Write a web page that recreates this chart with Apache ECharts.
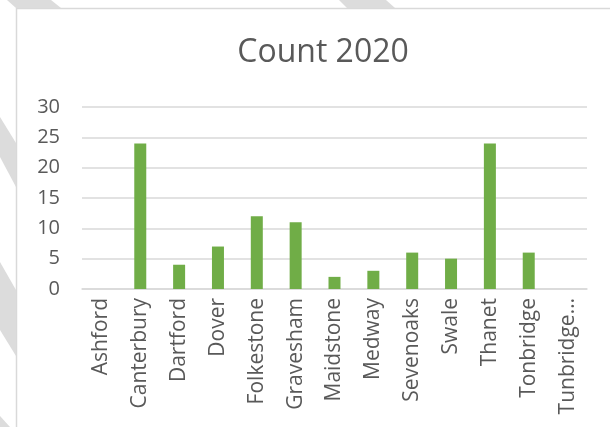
<!DOCTYPE html>
<html>
<head>
<meta charset="utf-8">
<script src="https://cdn.jsdelivr.net/npm/echarts@6/dist/echarts.min.js"></script>
<style>
html,body{margin:0;padding:0;background:#fff;}
#c{width:610px;height:427px;}
</style>
</head>
<body>
<div id="c"></div>
<script>
const titleText = 'Count 2020';
const categories = ['Ashford','Canterbury','Dartford','Dover','Folkestone','Gravesham','Maidstone','Medway','Sevenoaks','Swale','Thanet','Tonbridge','Tunbridge Wells'];
const counts = [0, 24, 4, 7, 12, 11, 2, 3, 6, 5, 24, 6, 0];
const yTicks = { min: 0, max: 30, interval: 5 };

const chart = echarts.init(document.getElementById('c'), null, { renderer: 'canvas' });
const FONT = '"Open Sans", "Noto Sans", sans-serif';
const deco = '#dcdcdc';
chart.setOption({
  animation: false,
  backgroundColor: '#ffffff',
  title: {
    text: titleText,
    left: 318,
    top: 32,
    textAlign: 'center',
    textStyle: { fontFamily: FONT, fontSize: 32, fontWeight: 'normal', color: '#595959' }
  },
  graphic: [
    { type: 'polygon', silent: true, shape: { points: [[7,0],[51,0],[61,8],[16,8]] }, style: { fill: deco } },
    { type: 'polygon', silent: true, shape: { points: [[339,0],[386,0],[395,8],[347,8]] }, style: { fill: deco } },
    { type: 'polygon', silent: true, shape: { points: [[0,117],[16,143],[16,187],[0,157]] }, style: { fill: deco } },
    { type: 'polygon', silent: true, shape: { points: [[0,262],[16,290],[16,356],[0,330]] }, style: { fill: deco } },
    { type: 'polygon', silent: true, shape: { points: [[0,416],[10,427],[0,427]] }, style: { fill: deco } },
    { type: 'line', silent: true, shape: { x1: 16, y1: 8.5, x2: 610, y2: 8.5 }, style: { stroke: '#d9d9d9', lineWidth: 1.5 } },
    { type: 'line', silent: true, shape: { x1: 16.5, y1: 8, x2: 16.5, y2: 427 }, style: { stroke: '#d9d9d9', lineWidth: 1.5 } }
  ],
  grid: { left: 82, right: 23, top: 107, bottom: 138, containLabel: false },
  xAxis: {
    type: 'category',
    data: categories,
    axisLine: { show: true, lineStyle: { color: '#d9d9d9', width: 1.5 } },
    axisTick: { show: false },
    axisLabel: {
      rotate: 90,
      interval: 0,
      margin: 9,
      width: 124,
      overflow: 'truncate',
      ellipsis: '…',
      fontFamily: FONT,
      fontSize: 21,
      color: '#595959'
    }
  },
  yAxis: {
    type: 'value',
    min: yTicks.min,
    max: yTicks.max,
    interval: yTicks.interval,
    axisLine: { show: false },
    axisTick: { show: false },
    splitLine: { lineStyle: { color: '#d9d9d9', width: 1.5 } },
    axisLabel: { margin: 22, fontFamily: FONT, fontSize: 20, color: '#595959' }
  },
  series: [{
    type: 'bar',
    data: counts,
    barWidth: 12,
    itemStyle: { color: '#70ad47', borderWidth: 0 }
  }]
});
</script>
</body>
</html>
